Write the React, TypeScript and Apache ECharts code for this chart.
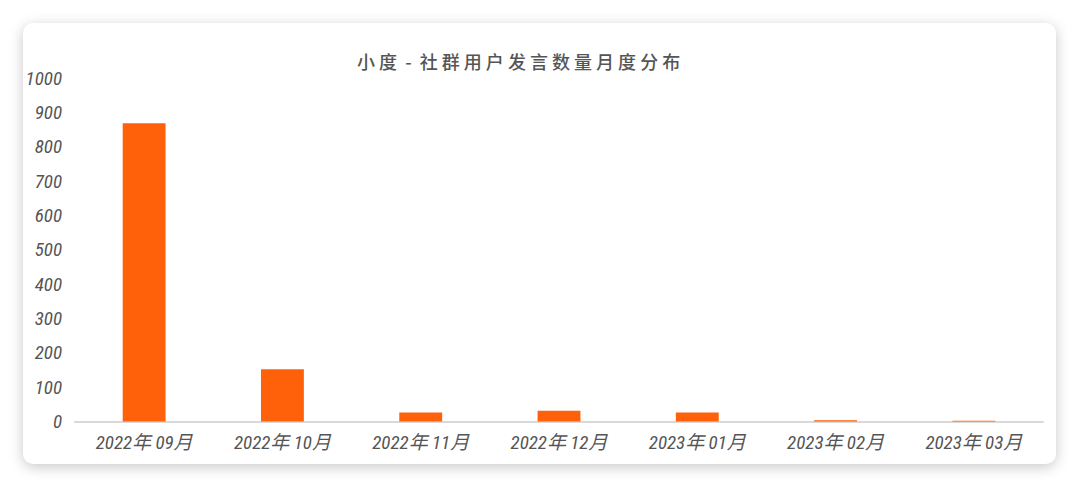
import React, { useEffect, useRef } from "react";
import * as echarts from "echarts";

const categories = ["2022年 09月", "2022年 10月", "2022年 11月", "2022年 12月", "2023年 01月", "2023年 02月", "2023年 03月"];
const values = [868, 152, 26, 31, 26, 4, 2];
const yTicks = [0, 100, 200, 300, 400, 500, 600, 700, 800, 900, 1000];
const titleText = "小 度  -  社 群 用 户 发 言 数 量 月 度 分 布";

const labelFont = "'Roboto Condensed', 'Liberation Sans Narrow', 'DejaVu Sans Condensed', 'Noto Sans CJK SC', sans-serif";

export default function App() {
  const ref = useRef<HTMLDivElement>(null);
  useEffect(() => {
    document.body.style.margin = "0";
    const chart = echarts.init(ref.current!, undefined, { renderer: "svg" });
    chart.setOption({
      animation: false,
      backgroundColor: "transparent",
      title: {
        text: titleText,
        left: 352,
        top: 47,
        textStyle: {
          fontFamily: "'Noto Sans CJK SC', sans-serif",
          fontSize: 18,
          fontWeight: 500,
          color: "#555555",
        },
      },
      grid: { left: 75, right: 37, top: 78, bottom: 66.5, containLabel: false },
      xAxis: {
        type: "category",
        data: categories,
        axisLine: { show: true, lineStyle: { color: "#d9d9d9", width: 2 } },
        axisTick: { show: false },
        axisLabel: {
          margin: 11,
          color: "#555555",
          fontSize: 19,
          fontStyle: "italic",
          fontFamily: labelFont,
        },
      },
      yAxis: {
        type: "value",
        min: yTicks[0],
        max: yTicks[yTicks.length - 1],
        interval: 100,
        splitLine: { show: false },
        axisLine: { show: false },
        axisTick: { show: false },
        axisLabel: {
          margin: 13,
          color: "#555555",
          fontSize: 19,
          fontStyle: "italic",
          fontFamily: labelFont,
          formatter: (v: number) => String(v),
        },
      },
      series: [
        {
          type: "bar",
          data: values,
          barWidth: "31%",
          itemStyle: { color: "#FF600A" },
        },
      ],
    });
    return () => chart.dispose();
  }, []);
  return (
    <div style={{ position: "relative", width: 1080, height: 488, background: "#ffffff", overflow: "hidden" }}>
      <div
        style={{
          position: "absolute",
          left: 23,
          top: 23,
          width: 1033,
          height: 441,
          background: "#ffffff",
          borderRadius: 10,
          boxShadow: "0 3px 14px rgba(0,0,0,0.22)",
        }}
      />
      <div ref={ref} style={{ position: "absolute", left: 0, top: 0, width: 1080, height: 488 }} />
    </div>
  );
}
